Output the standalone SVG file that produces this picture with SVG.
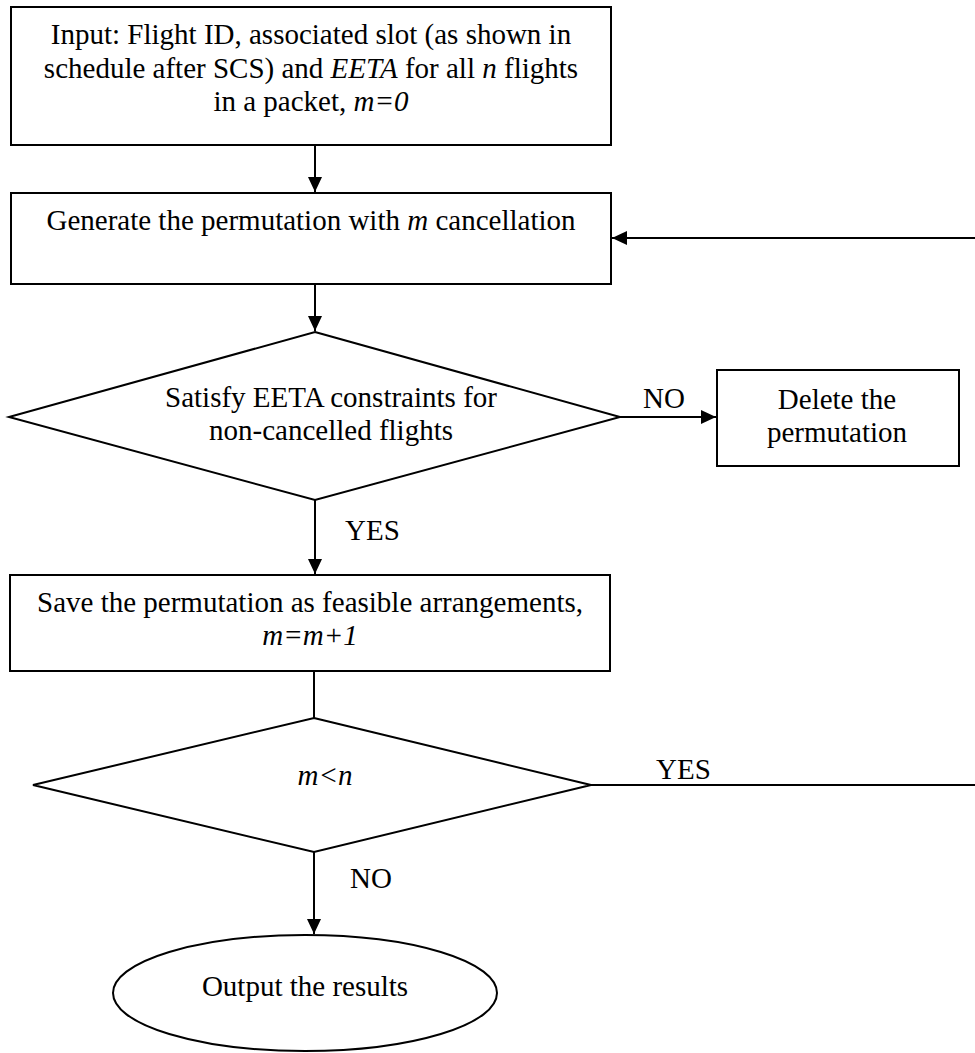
<svg xmlns="http://www.w3.org/2000/svg" width="975" height="1053" viewBox="0 0 975 1053">
<style>
.shape{fill:#fff;stroke:#000;stroke-width:2}
.t{font-family:"Liberation Serif","Times New Roman",serif;font-size:29px;fill:#000;text-anchor:middle}
.l{font-family:"Liberation Serif","Times New Roman",serif;font-size:29px;fill:#000}
.i{font-style:italic}
.c{fill:none;stroke:#000;stroke-width:2}
</style>
<defs>
<marker id="ah" markerWidth="16" markerHeight="14" refX="15" refY="7" orient="auto" markerUnits="userSpaceOnUse">
<path d="M0,0 L15,7 L0,14 z" fill="#000"/>
</marker>
</defs>
<rect width="975" height="1053" fill="#fff"/>
<g id="connectors">
<path class="c" d="M315,145 V192" marker-end="url(#ah)"/>
<path class="c" d="M315,284 V331" marker-end="url(#ah)"/>
<path class="c" d="M620,417 H716" marker-end="url(#ah)"/>
<path class="c" d="M315,500 V574" marker-end="url(#ah)"/>
<path class="c" d="M314,671 V718"/>
<path class="c" d="M591,785 H990 V238 H612" marker-end="url(#ah)"/>
<path class="c" d="M314,852 V934" marker-end="url(#ah)"/>
<text class="l" x="643" y="408">NO</text>
<text class="l" x="345" y="540">YES</text>
<text class="l" x="656" y="779">YES</text>
<text class="l" x="350" y="888">NO</text>
</g>
<g id="input">
<rect class="shape" x="11" y="7" width="600" height="138"/>
<text class="t" x="311" y="44">Input: Flight ID, associated slot (as shown in</text>
<text class="t" x="311" y="78">schedule after SCS) and <tspan class="i">EETA</tspan> for all <tspan class="i">n</tspan> flights</text>
<text class="t" x="311" y="111">in a packet, <tspan class="i">m=0</tspan></text>
</g>
<g id="generate">
<rect class="shape" x="11" y="193" width="600" height="91"/>
<text class="t" x="311" y="230">Generate the permutation with <tspan class="i">m</tspan> cancellation</text>
</g>
<g id="satisfy">
<polygon class="shape" points="315,332 620,417 315,500 9,417"/>
<text class="t" x="331" y="407">Satisfy EETA constraints for</text>
<text class="t" x="331" y="440">non-cancelled flights</text>
</g>
<g id="delete">
<rect class="shape" x="717" y="370" width="242" height="96"/>
<text class="t" x="837" y="409">Delete the</text>
<text class="t" x="837" y="442">permutation</text>
</g>
<g id="save">
<rect class="shape" x="10" y="575" width="600" height="96"/>
<text class="t" x="310" y="612">Save the permutation as feasible arrangements,</text>
<text class="t i" x="310" y="645">m=m+1</text>
</g>
<g id="check">
<polygon class="shape" points="314,718 591,785 314,852 33,785"/>
<text class="t i" x="325" y="785">m&lt;n</text>
</g>
<g id="output">
<ellipse class="shape" cx="305" cy="993" rx="192" ry="58"/>
<text class="t" x="305" y="996">Output the results</text>
</g>
</svg>
